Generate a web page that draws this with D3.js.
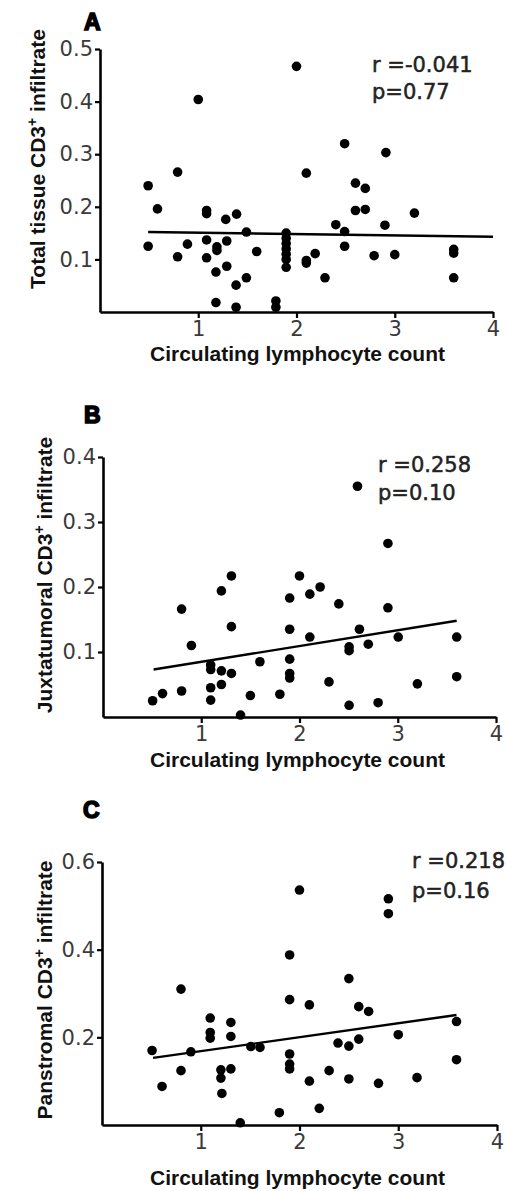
<!DOCTYPE html>
<html>
<head>
<meta charset="utf-8">
<script src="https://cdn.jsdelivr.net/npm/d3@7/dist/d3.min.js"></script>
<style>
  html, body { margin: 0; padding: 0; background: #fff; }
  svg { display: block; }
</style>
</head>
<body>
<svg id="chart" width="506" height="1191"></svg>
<script>
// ---------- data ----------
const xTicks = [1, 2, 3, 4];
const xTitle = "Circulating lymphocyte count";

// Panel A : Total tissue CD3+ infiltrate
const aLetter = "A";
const aYTitle = "Total tissue CD3";
const aYTicks = [0.1, 0.2, 0.3, 0.4, 0.5];
const aX = [0.49, 0.79, 0.585, 1.085, 1.085, 1.28, 1.39, 1.49, 0.49, 0.89, 0.79, 1.085, 1.19, 1.19, 1.29, 1.085, 1.595, 1.29, 1.18, 1.49, 1.385, 1.18, 1.385, 1.79, 1.79,
  1.895, 1.895, 1.895, 1.895, 1.895, 1.895, 1.895,
  1.00, 2.00, 2.10, 2.91, 2.49, 2.60, 2.70, 2.60, 2.70, 3.20, 2.40, 2.90, 2.49, 2.49, 2.19, 2.10, 2.10, 2.29, 2.79, 3.00, 3.60, 3.60, 3.60];
const aY = [0.240, 0.266, 0.196, 0.193, 0.187, 0.176, 0.186, 0.152, 0.125, 0.129, 0.105, 0.137, 0.124, 0.117, 0.135, 0.103, 0.115, 0.087, 0.076, 0.065, 0.051, 0.018, 0.009, 0.021, 0.009,
  0.150, 0.140, 0.130, 0.120, 0.110, 0.100, 0.085,
  0.404, 0.467, 0.264, 0.303, 0.320, 0.245, 0.235, 0.193, 0.195, 0.188, 0.166, 0.165, 0.153, 0.125, 0.111, 0.098, 0.093, 0.065, 0.107, 0.109, 0.119, 0.112, 0.065];
const aFitX = [0.49, 4.0];
const aFitY = [0.152, 0.143];
const aStats = ["r =-0.041", "p=0.77"];

// Panel B : Juxtatumoral CD3+ infiltrate
const bLetter = "B";
const bYTitle = "Juxtatumoral CD3";
const bYTicks = [0.1, 0.2, 0.3, 0.4];
const bX = [0.505, 0.606, 0.80, 0.80, 0.90, 1.096, 1.096, 1.096, 1.096, 1.205, 1.307, 1.307, 1.205, 1.307, 1.205, 1.40, 1.597, 1.50, 1.80,
  1.90, 1.90, 1.90, 1.90, 1.90, 2.00, 2.105, 2.21, 2.40, 2.90, 2.90, 2.105, 2.61, 2.505, 2.505, 2.70, 3.005, 3.60, 2.30, 2.505, 2.80, 3.20, 3.60, 2.59];
const bY = [0.025, 0.036, 0.040, 0.166, 0.110, 0.080, 0.073, 0.045, 0.026, 0.194, 0.217, 0.139, 0.071, 0.067, 0.050, 0.003, 0.085, 0.033, 0.035,
  0.183, 0.135, 0.089, 0.067, 0.060, 0.217, 0.189, 0.200, 0.174, 0.267, 0.168, 0.123, 0.135, 0.108, 0.102, 0.112, 0.123, 0.123, 0.054, 0.018, 0.022, 0.051, 0.062, 0.355];
const bFitX = [0.515, 3.60];
const bFitY = [0.073, 0.148];
const bStats = ["r =0.258", "p=0.10"];

// Panel C : Panstromal CD3+ infiltrate
const cLetter = "C";
const cYTitle = "Panstromal CD3";
const cYTicks = [0.2, 0.4, 0.6];
const cX = [0.507, 0.608, 0.80, 0.80, 0.90, 1.096, 1.096, 1.096, 1.305, 1.305, 1.204, 1.204, 1.305, 1.214, 1.40, 1.507, 1.60, 1.796,
  1.90, 1.90, 1.90, 1.90, 1.90, 2.10, 2.10, 2.20, 2.30, 2.39, 2.50, 2.60, 2.60, 2.70, 2.50, 2.50, 2.80, 3.00, 3.19, 3.59, 3.59, 2.00, 2.90, 2.90];
const cY = [0.170, 0.088, 0.310, 0.124, 0.167, 0.244, 0.211, 0.198, 0.234, 0.202, 0.126, 0.107, 0.128, 0.072, 0.005, 0.179, 0.177, 0.028,
  0.286, 0.162, 0.139, 0.128, 0.388, 0.274, 0.100, 0.038, 0.124, 0.187, 0.180, 0.196, 0.270, 0.259, 0.334, 0.105, 0.095, 0.206, 0.108, 0.236, 0.149, 0.536, 0.516, 0.482];
const cFitX = [0.517, 3.59];
const cFitY = [0.153, 0.251];
const cStats = ["r =0.218", "p=0.16"];

// ---------- layout (pixels) ----------
const panels = [
  { letter: aLetter, yTitle: aYTitle, yTicks: aYTicks, xs: aX, ys: aY, fitX: aFitX, fitY: aFitY, stats: aStats,
    yMax: 0.5, x0: 100, x1: 493, yBottom: 312, yTop: 49,
    letterPos: [84, 30], statsPos: [372, 72, 99], yTitlePos: [45, 159], xTitleBase: 361 },
  { letter: bLetter, yTitle: bYTitle, yTicks: bYTicks, xs: bX, ys: bY, fitX: bFitX, fitY: bFitY, stats: bStats,
    yMax: 0.4, x0: 103, x1: 496, yBottom: 717, yTop: 457,
    letterPos: [84, 423], statsPos: [378, 472, 500], yTitlePos: [52, 575], xTitleBase: 767 },
  { letter: cLetter, yTitle: cYTitle, yTicks: cYTicks, xs: cX, ys: cY, fitX: cFitX, fitY: cFitY, stats: cStats,
    yMax: 0.6, x0: 102, x1: 497, yBottom: 1125, yTop: 862,
    letterPos: [83, 818], statsPos: [412, 868, 898], yTitlePos: [52, 990], xTitleBase: 1185 }
];

const svg = d3.select("#chart");
const titleFont = "'Liberation Sans', Arial, Helvetica, sans-serif";
const tickFont = "'DejaVu Sans', Verdana, sans-serif";

panels.forEach(p => {
  const x = d3.scaleLinear().domain([0, 4]).range([p.x0, p.x1]);
  const y = d3.scaleLinear().domain([0, p.yMax]).range([p.yBottom, p.yTop]);
  const g = svg.append("g");

  // axes
  const xAxis = d3.axisBottom(x).tickValues(xTicks).tickSize(6).tickSizeOuter(0).tickPadding(3).tickFormat(d3.format("d"));
  const yAxis = d3.axisLeft(y).tickValues(p.yTicks).tickSize(5).tickSizeOuter(0).tickPadding(2).tickFormat(d3.format(".1f"));
  const gx = g.append("g").attr("transform", `translate(0,${p.yBottom})`).call(xAxis);
  const gy = g.append("g").attr("transform", `translate(${p.x0},0)`).call(yAxis);
  [gx, gy].forEach(a => {
    a.select(".domain").attr("stroke", "#000").attr("stroke-width", 2.6);
    a.selectAll(".tick line").attr("stroke", "#000").attr("stroke-width", 2.2);
    a.selectAll(".tick text").attr("font-family", tickFont).attr("font-size", 21).attr("fill", "#3a3a3a");
  });

  // regression line
  const fit = p.fitX.map((d, i) => [d, p.fitY[i]]);
  g.append("path")
    .attr("d", d3.line().x(d => x(d[0])).y(d => y(d[1]))(fit))
    .attr("stroke", "#000").attr("stroke-width", 2.4).attr("fill", "none");

  // points
  g.selectAll("circle.pt").data(p.xs.map((d, i) => [d, p.ys[i]])).enter()
    .append("circle").attr("class", "pt")
    .attr("cx", d => x(d[0])).attr("cy", d => y(d[1])).attr("r", 4.8).attr("fill", "#000");

  // panel letter
  g.append("text").attr("x", p.letterPos[0]).attr("y", p.letterPos[1])
    .attr("font-family", titleFont).attr("font-weight", "bold").attr("font-size", 23)
    .attr("stroke", "#000").attr("stroke-width", 1.6).attr("fill", "#000").text(p.letter);

  // stats text
  p.stats.forEach((s, i) => {
    g.append("text").attr("x", p.statsPos[0]).attr("y", p.statsPos[1 + i])
      .attr("font-family", tickFont).attr("font-size", 21).attr("fill", "#222")
      .attr("stroke", "#222").attr("stroke-width", 0.5).text(s);
  });

  // y title
  const yt = g.append("text")
    .attr("transform", `translate(${p.yTitlePos[0]},${p.yTitlePos[1]}) rotate(-90)`)
    .attr("text-anchor", "middle")
    .attr("font-family", titleFont).attr("font-weight", "bold").attr("font-size", 21).attr("fill", "#111");
  yt.append("tspan").text(p.yTitle);
  yt.append("tspan").attr("font-size", 14).attr("dy", -8).text("+");
  yt.append("tspan").attr("dy", 8).text(" infiltrate");

  // x title
  g.append("text").attr("x", (150 + 445) / 2).attr("y", p.xTitleBase)
    .attr("text-anchor", "middle")
    .attr("font-family", titleFont).attr("font-weight", "bold").attr("font-size", 20).attr("fill", "#111")
    .attr("textLength", 295).attr("lengthAdjust", "spacingAndGlyphs")
    .text(xTitle);
});
</script>
</body>
</html>
